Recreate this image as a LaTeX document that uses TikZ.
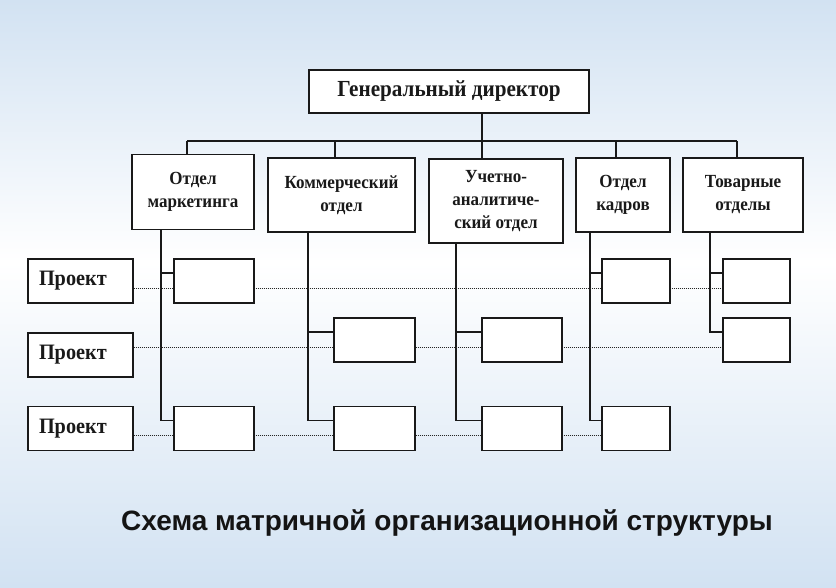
\documentclass[tikz,border=0pt]{standalone}
\usepackage{fontspec}
\setmainfont{Liberation Serif}
\newfontfamily\boxfont{Liberation Serif}[FakeStretch=0.92]
\newfontfamily\titlefont{Liberation Sans}
\usetikzlibrary{calc}
\definecolor{bgblue}{RGB}{210,226,242}
\definecolor{inkc}{RGB}{25,25,25}
\pgfdeclarelayer{bg}
\pgfdeclarelayer{lines}
\pgfsetlayers{bg,lines,main}
\begin{document}
\begin{tikzpicture}[x=1pt,y=-1pt,
  box/.style={draw=inkc, line width=1.4pt, fill=white, inner sep=0pt, align=center,
    font=\boxfont\bfseries\fontsize{18.5}{23}\selectfont, text=inkc},
  cell/.style={draw=inkc, line width=1.4pt, fill=white, minimum width=#1, minimum height=44pt, inner sep=0pt},
  proj/.style={draw=inkc, line width=1.4pt, fill=white, text width=83pt, inner xsep=11pt, inner ysep=0pt,
    minimum height=44pt, align=left, font=\boxfont\bfseries\fontsize{22}{24}\selectfont, text=inkc},
  conn/.style={draw=inkc, line width=1.4pt},
  dotl/.style={draw=black!85, line width=1pt, densely dotted}
]
\useasboundingbox (0,0) rectangle (836,587);
\begin{pgfonlayer}{bg}
  \shade[top color=bgblue, bottom color=white] (0,0) rectangle (836,262);
  \shade[top color=white, bottom color=bgblue] (0,262) rectangle (836,587);
\end{pgfonlayer}

% director and departments
\node[box, minimum width=280pt, minimum height=43pt, font=\boxfont\bfseries\fontsize{23}{26}\selectfont] (dir) at (449,91.5) {Генеральный директор};
\node[box, minimum width=122pt, minimum height=75pt] (d1) at (193,192) {Отдел\\маркетинга};
\node[box, minimum width=147pt, minimum height=74pt] (d2) at (341.5,195) {Коммерческий\\отдел};
\node[box, minimum width=134pt, minimum height=84pt] (d3) at (496,201) {Учетно-\\аналитиче-\\ский отдел};
\node[box, minimum width=94pt, minimum height=74pt] (d4) at (623,195) {Отдел\\кадров};
\node[box, minimum width=120pt, minimum height=74pt] (d5) at (743,195) {Товарные\\отделы};

% project boxes
\node[proj] (p1) at (80.5,281) {Проект};
\node[proj] (p2) at (80.5,355) {Проект};
\node[proj] (p3) at (80.5,428.5) {Проект};

% cells
\node[cell=80pt] (c11) at (214,281) {};
\node[cell=80pt] (c13) at (214,428.5) {};
\node[cell=81pt] (c22) at (374.5,340) {};
\node[cell=81pt] (c23) at (374.5,428.5) {};
\node[cell=80pt] (c32) at (522,340) {};
\node[cell=80pt] (c33) at (522,428.5) {};
\node[cell=68pt] (c41) at (636,281) {};
\node[cell=68pt] (c43) at (636,428.5) {};
\node[cell=67pt] (c51) at (756.5,281) {};
\node[cell=67pt] (c52) at (756.5,340) {};

% title
\node[font=\titlefont\bfseries\fontsize{28}{32}\selectfont, text=black!92] (title) at (447,523)
  {Схема матричной организационной структуры};

% junction coordinates
\coordinate (j1) at (187,141);
\coordinate (j2) at (335,141);
\coordinate (j3) at (482,141);
\coordinate (j4) at (616,141);
\coordinate (j5) at (737,141);
\coordinate (t1) at (161,229);
\coordinate (t2) at (308,224);
\coordinate (t3) at (456,224);
\coordinate (t4) at (590,224);
\coordinate (t5) at (710,226);
\foreach \c in {c11,c13,c22,c23,c32,c33,c41,c43,c51,c52}
  \coordinate (a\c) at ($(\c.north west)!.32!(\c.south west)$);

\begin{pgfonlayer}{lines}
  % tree
  \draw[conn] (dir.south -| j3) -- (d3.north -| j3);
  \draw[conn] (j1) -- (j5);
  \draw[conn] (j1) -- (d1.north -| j1);
  \draw[conn] (j2) -- (d2.north -| j2);
  \draw[conn] (j4) -- (d4.north -| j4);
  \draw[conn] (j5) -- (d5.north -| j5);
  % columns
  \draw[conn] (d1.south -| t1) |- (ac13);
  \draw[conn] (ac11 -| t1) -- (ac11);
  \draw[conn] (t2) |- (ac23);
  \draw[conn] (ac22 -| t2) -- (ac22);
  \draw[conn] (t3) |- (ac33);
  \draw[conn] (ac32 -| t3) -- (ac32);
  \draw[conn] (t4) |- (ac43);
  \draw[conn] (ac41 -| t4) -- (ac41);
  \draw[conn] (t5) |- (ac52);
  \draw[conn] (ac51 -| t5) -- (ac51);
  % project rows
  \draw[dotl] ([yshift=-7pt]p1.east) -- ([yshift=-7pt]p1.east -| c51.west);
  \draw[dotl] ([yshift=8pt]p2.east) -- ([yshift=8pt]p2.east -| c52.west);
  \draw[dotl] ([yshift=-7pt]p3.east) -- ([yshift=-7pt]p3.east -| c43.west);
\end{pgfonlayer}
\end{tikzpicture}
\end{document}
